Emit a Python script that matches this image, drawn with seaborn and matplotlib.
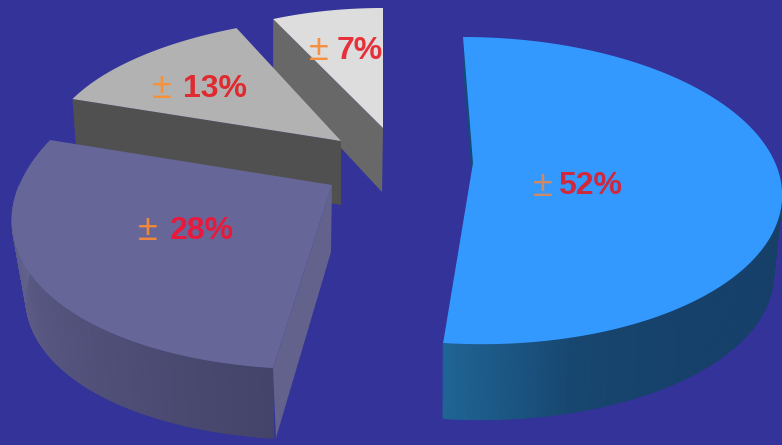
import numpy as np
import matplotlib
matplotlib.use("Agg")
import matplotlib.pyplot as plt
import seaborn as sns

# Share of each slice, clockwise from twelve o'clock
shares = [52, 28, 13, 7]
labels = [f"{s}%" for s in shares]
marker = "\u00b1"

# Colours
background = "#333399"
top_colors = sns.color_palette(["#3399FF", "#666699", "#B2B2B2", "#DDDDDD"])
# Outer wall shading, listed from the slice's leading corner along the arc
rim_colors = [
    ["#163F66", "#16416A", "#16416A", "#17466F", "#1F6494"],
    ["#44446A", "#53537C", "#62628F"],
    None,
    None,
]
cut_colors = ["#124C78", "#62628C", "#505050", "#686868"]
number_colors = ["#D0283C", "#E81A3C", "#DF2A30", "#E6303A"]
marker_colors = ["#CC8A66", "#F0883C", "#F5923A", "#F59040"]

# Perspective of every exploded slice, in figure pixels:
# ellipse centre, radii, shear, apex, rim offset and scale, cut-face offsets
geometry = [
    dict(c=(472.5, 190.6), r=(309.5, 153.6), sx=-9.5, apex=(473, 163),
         rim=(-0.9, 79.4), scale=0.975, cut_in=(0, 30), cut_out=(0, 30)),
    dict(c=(371, 194.2), r=(355, 175.3), sx=54, apex=(332, 185),
         rim=(-4, 79), scale=0.95, cut_in=(-1, 67), cut_out=(3, 70)),
    dict(c=(330, 135.8), r=(280, 119), sx=28.5, apex=(341, 141),
         rim=(0, 60), scale=1.0, cut_in=(0, 64), cut_out=(4, 58)),
    dict(c=(383, 124), r=(258, 116), sx=0, apex=(383, 128),
         rim=(0, 60), scale=1.0, cut_in=(-1, 64), cut_out=(0, 56)),
]

# Label anchors: marker centre x, number left x, vertical centre y
label_pos = [(543, 558, 186), (148, 170, 231), (162, 183, 89), (319, 337, 51)]

sns.set_theme(style="white")
fig, ax = plt.subplots(figsize=(7.82, 4.45), dpi=100)
fig.patch.set_facecolor(background)
ax.set_position([0, 0, 1, 1])
ax.set_facecolor(background)
ax.set_xlim(0, 782)
ax.set_ylim(445, 0)
ax.axis("off")


def rim_point(g, t):
    """Point on a slice's upper ellipse at angle t (radians)."""
    x = g["c"][0] + g["r"][0] * np.cos(t) + g["sx"] * np.sin(t)
    y = g["c"][1] - g["r"][1] * np.sin(t)
    return x, y


def lower_point(g, t):
    """Matching point on the slightly smaller bottom ellipse."""
    x, y = rim_point(g, t)
    x = g["c"][0] + g["rim"][0] + g["scale"] * (x - g["c"][0])
    y = g["c"][1] + g["rim"][1] + g["scale"] * (y - g["c"][1])
    return x, y


# Angles come from the shares, walking clockwise from the top
edges = 90 - np.concatenate([[0], np.cumsum(shares)]) * 3.6

# Back slices first so the nearer ones overlap them
for i in [3, 2, 1, 0]:
    g = geometry[i]
    t = np.radians(np.linspace(edges[i], edges[i + 1], 160))

    # Outer wall, shaded by small strips along the visible part of the arc
    if rim_colors[i] is not None:
        visible = t[np.sin(t) <= 0.05]
        shades = sns.blend_palette(rim_colors[i], len(visible) - 1)
        for k in range(len(visible) - 1):
            x0, y0 = rim_point(g, visible[k])
            x1, y1 = rim_point(g, visible[k + 1])
            x2, y2 = lower_point(g, visible[k + 1])
            x3, y3 = lower_point(g, visible[k])
            ax.fill([x0, x1, x2, x3], [y0, y1, y2, y3],
                    color=shades[k], lw=0.6, zorder=i * -10)

    # Cut face along the slice's leading edge
    sx, sy = rim_point(g, t[0])
    ax.fill([g["apex"][0], sx, sx + g["cut_out"][0], g["apex"][0] + g["cut_in"][0]],
            [g["apex"][1], sy, sy + g["cut_out"][1], g["apex"][1] + g["cut_in"][1]],
            color=cut_colors[i], lw=0, zorder=i * -10 + 1)

    # Top face
    xs, ys = rim_point(g, t)
    ax.fill(np.r_[g["apex"][0], xs], np.r_[g["apex"][1], ys],
            color=top_colors[i], lw=0, zorder=i * -10 + 2)

# Percent labels: thin orange sign followed by the bold figure
for i, (mx, nx, y) in enumerate(label_pos):
    ax.text(mx, y, marker, color=marker_colors[i], family="Liberation Sans",
            fontsize=26, ha="center", va="center", zorder=5)
    ax.text(nx, y, labels[i], color=number_colors[i], family="Liberation Sans",
            fontweight="bold", fontsize=23, ha="left", va="center", zorder=5)

fig.savefig("out.png", dpi=100, facecolor=background)
